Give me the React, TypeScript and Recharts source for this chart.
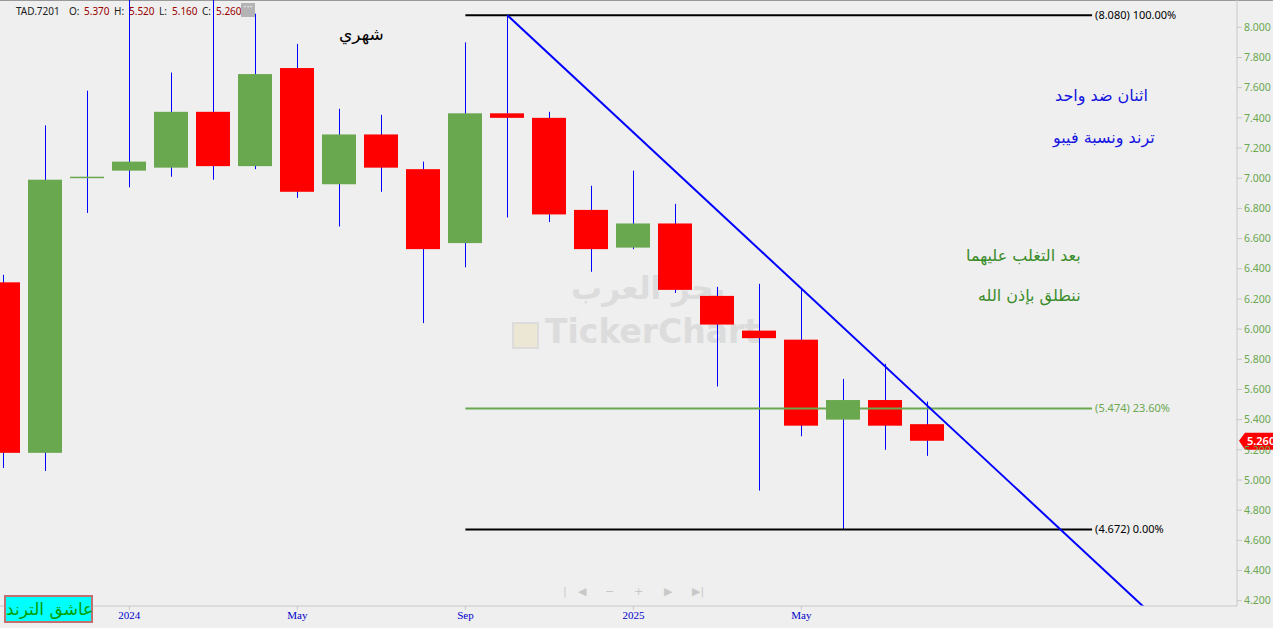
import React from 'react'
import { ComposedChart, Bar, XAxis, YAxis, ReferenceLine } from 'recharts'

// monthly candles, Oct 2023 .. Aug 2025
const months = ['Oct23', 'Nov23', 'Dec23', 'Jan24', 'Feb24', 'Mar24', 'Apr24', 'May24', 'Jun24', 'Jul24', 'Aug24', 'Sep24',
  'Oct24', 'Nov24', 'Dec24', 'Jan25', 'Feb25', 'Mar25', 'Apr25', 'May25', 'Jun25', 'Jul25', 'Aug25']
const opens = [6.31, 5.18, 7.0, 7.05, 7.07, 7.44, 7.08, 7.73, 6.96, 7.29, 7.06, 6.57, 7.43, 7.4, 6.79, 6.54, 6.7, 6.22, 5.99, 5.93, 5.4, 5.53, 5.37]
const highs = [6.36, 7.35, 7.58, 8.25, 7.7, 8.25, 8.09, 7.89, 7.46, 7.42, 7.11, 7.9, 8.08, 7.44, 6.95, 7.05, 6.83, 6.28, 6.3, 6.27, 5.67, 5.77, 5.52]
const lows = [5.08, 5.06, 6.77, 6.94, 7.01, 6.99, 7.06, 6.87, 6.68, 6.91, 6.04, 6.41, 6.74, 6.71, 6.38, 6.53, 6.24, 5.62, 4.93, 5.29, 4.672, 5.2, 5.16]
const closes = [5.18, 6.99, 7.01, 7.11, 7.44, 7.08, 7.69, 6.91, 7.29, 7.07, 6.53, 7.43, 7.4, 6.76, 6.53, 6.7, 6.26, 6.03, 5.94, 5.36, 5.53, 5.36, 5.26]

const xTicks = [3, 7, 11, 15, 19]
const xTickLabels = ['2024', 'May', 'Sep', '2025', 'May']
const yTicks = [4.2, 4.4, 4.6, 4.8, 5.0, 5.2, 5.4, 5.6, 5.8, 6.0, 6.2, 6.4, 6.6, 6.8, 7.0, 7.2, 7.4, 7.6, 7.8, 8.0]

// fibonacci levels and trend line anchors
const fibLevels = [
  { value: 8.08, label: '(8.080) 100.00%', color: '#000000' },
  { value: 5.474, label: '(5.474) 23.60%', color: '#6aa84f' },
  { value: 4.672, label: '(4.672) 0.00%', color: '#000000' },
]
const fibStart = 11
const fibEnd = 25.92
const trendLine = [{ x: 12, y: 8.08 }, { x: 27.3, y: 4.12 }]
const lastClose = 5.26

const GREEN = '#6aa84f'
const RED = '#ff0000'
const WICK = '#0000ff'

const data = months.map((m, i) => ({
  i,
  month: m,
  open: opens[i],
  high: highs[i],
  low: lows[i],
  close: closes[i],
  range: [lows[i], highs[i]],
}))

const Candle = (props: any) => {
  const { x, y, width, height, payload } = props
  const { open, close, high, low } = payload
  const pxPer = height / (high - low)
  const yOf = (v: number) => y + (high - v) * pxPer
  const up = close >= open
  const top = yOf(Math.max(open, close))
  const bot = yOf(Math.min(open, close))
  const cx = Math.round(x + width / 2)
  return (
    <g>
      <rect x={cx} y={y} width={1} height={height} fill={WICK} />
      <rect x={Math.round(x)} y={top} width={width} height={Math.max(bot - top, 1.5)} fill={up ? GREEN : RED} />
    </g>
  )
}

const PriceTag = (props: any) => {
  const vb = props.viewBox || {}
  const x = vb.x + vb.width + 2
  const y = vb.y
  return (
    <g>
      <polygon points={`${x},${y} ${x + 6},${y - 8} ${x + 36},${y - 8} ${x + 36},${y + 9} ${x + 6},${y + 9}`} fill={RED} />
      <text x={x + 8} y={y + 4} fill="#fff" fontSize={11} fontFamily="Noto Sans, sans-serif" fontWeight={600}>{lastClose.toFixed(3)}</text>
    </g>
  )
}

const abs = (left: number, top: number, extra: React.CSSProperties = {}): React.CSSProperties => ({
  position: 'absolute', left, top, whiteSpace: 'nowrap', ...extra,
})

const hdr: React.CSSProperties = { fontFamily: 'Noto Sans, sans-serif', fontSize: 10, lineHeight: '14px' }
const dark = '#990000'
const nav = [['|', 563], ['◀', 578], ['−', 605], ['+', 634], ['▶', 664], ['▶|', 692]]

export default function App() {
  return (
    <div style={{ position: 'fixed', left: 0, top: 0, width: 1273, height: 628, background: '#efefef', overflow: 'hidden' }}>
      <div style={abs(0, 0, { width: 1273, height: 1, background: '#9a9a9a' })} />
      <div style={abs(16, 4, { ...hdr, color: '#222' })}>TAD.7201</div>
      <div style={abs(69, 4, { ...hdr, color: '#222' })}>O:</div>
      <div style={abs(84, 4, { ...hdr, color: dark })}>5.370</div>
      <div style={abs(114, 4, { ...hdr, color: '#222' })}>H:</div>
      <div style={abs(129, 4, { ...hdr, color: dark })}>5.520</div>
      <div style={abs(159, 4, { ...hdr, color: '#222' })}>L:</div>
      <div style={abs(172, 4, { ...hdr, color: dark })}>5.160</div>
      <div style={abs(202, 4, { ...hdr, color: '#222' })}>C:</div>
      <div style={abs(216, 4, { ...hdr, color: dark })}>5.260</div>
      <div style={abs(241, 3, { width: 14, height: 14, background: '#b4b4b4', color: '#fff', fontSize: 10, lineHeight: '8px', textAlign: 'center', fontFamily: 'DejaVu Sans' })}>···</div>

      {/* watermark */}
      <div style={abs(571, 270, { fontFamily: 'DejaVu Sans', fontWeight: 700, fontSize: 31, color: '#dcdcdc' })}>بحر العرب</div>
      <div style={abs(512, 322, { width: 23, height: 23, border: '2px solid #dcdcdc', background: '#ece6d4' })} />
      <div style={abs(545, 312, { fontFamily: 'DejaVu Sans', fontWeight: 700, fontSize: 33, color: '#dcdcdc' })}>TickerChart</div>

      <div style={abs(0, 0)}>
        <ComposedChart width={1273} height={628} data={data} margin={{ top: 0, right: 0, left: 0, bottom: 0 }}>
          <XAxis
            dataKey="i"
            type="number"
            domain={[-0.08, 29.37]}
            ticks={xTicks}
            tickFormatter={(v: number) => xTickLabels[xTicks.indexOf(v)] ?? ''}
            allowDataOverflow
            height={22}
            stroke="#c8c8c8"
            tickSize={4}
            tickMargin={1}
            tick={{ fill: '#0000cc', fontSize: 11, fontFamily: 'Liberation Serif, serif' }}
          />
          <YAxis
            orientation="right"
            type="number"
            domain={[4.165, 8.181]}
            ticks={yTicks}
            allowDataOverflow
            width={36}
            stroke="#c8c8c8"
            tickSize={5}
            tickMargin={2}
            tickFormatter={(v: number) => v.toFixed(3)}
            tick={{ fill: GREEN, fontSize: 10.5, fontFamily: 'Noto Sans, sans-serif', textAnchor: 'start' }}
          />
          <Bar dataKey="range" barSize={34} shape={<Candle />} isAnimationActive={false} />
          {fibLevels.map((f) => (
            <ReferenceLine
              key={f.label}
              segment={[{ x: fibStart, y: f.value }, { x: fibEnd, y: f.value }]}
              stroke={f.color}
              strokeWidth={2}
              ifOverflow="visible"
              label={{ value: f.label, position: 'right', offset: 3, fill: f.color, fontSize: 11, fontFamily: 'Noto Sans, sans-serif' }}
            />
          ))}
          <ReferenceLine segment={trendLine} stroke="#0000ff" strokeWidth={2} ifOverflow="hidden" />
          <ReferenceLine y={lastClose} stroke="none" ifOverflow="visible" label={<PriceTag />} />
        </ComposedChart>
      </div>

      {/* annotations */}
      <div style={abs(339, 24, { fontFamily: 'DejaVu Sans', fontSize: 17, color: '#000' })}>شهري</div>
      <div style={abs(1055, 86, { fontFamily: 'DejaVu Sans', fontSize: 16, color: '#1515e0' })}>اثنان ضد واحد</div>
      <div style={abs(1053, 128, { fontFamily: 'DejaVu Sans', fontSize: 16, color: '#1515e0' })}>ترند ونسبة فيبو</div>
      <div style={abs(966, 246, { fontFamily: 'DejaVu Sans', fontSize: 16, color: '#3a8c2a' })}>بعد التغلب عليهما</div>
      <div style={abs(978, 286, { fontFamily: 'DejaVu Sans', fontSize: 16, color: '#3a8c2a' })}>ننطلق بإذن الله</div>

      {/* navigation */}
      {nav.map(([t, l]) => (
        <div key={String(l)} style={abs(l as number, 585, { fontFamily: 'DejaVu Sans', fontSize: 11, color: '#c8c8c8' })}>{t}</div>
      ))}

      <div style={abs(4, 595, { width: 85, height: 24, background: '#00ffff', border: '2px solid #c07070', color: '#00a000', fontFamily: 'DejaVu Sans', fontSize: 17, lineHeight: '24px', textAlign: 'center' })}>عاشق الترند</div>
    </div>
  )
}
